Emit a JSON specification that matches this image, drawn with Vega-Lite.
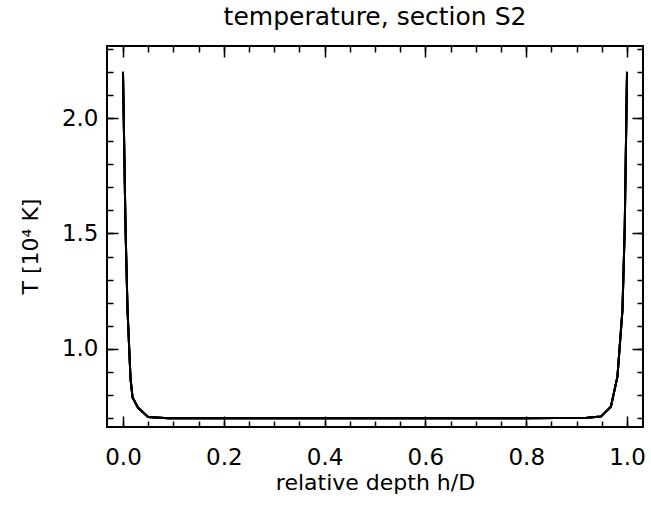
{
  "$schema": "https://vega.github.io/schema/vega-lite/v6.json",
  "width": 536,
  "height": 381,
  "autosize": {"type": "none"},
  "padding": {"left": 107, "top": 46, "right": 8, "bottom": 78},
  "background": "white",
  "config": {
    "view": {"stroke": "black", "strokeWidth": 2},
    "font": "DejaVu Sans",
    "axis": {"grid": false, "domain": false, "tickColor": "black", "tickWidth": 1.5, "labelColor": "black", "titleColor": "black", "labelFont": "DejaVu Sans", "titleFont": "DejaVu Sans", "titleFontWeight": "normal", "labelFontSize": 23, "titleFontSize": 22}
  },
  "title": {"text": "temperature, section S2", "fontSize": 25, "font": "DejaVu Sans", "fontWeight": "normal", "color": "black", "anchor": "middle", "offset": 15},
  "data": {"values": [
    {"h": 0.000, "T": 2.20},
    {"h": 0.005, "T": 1.53},
    {"h": 0.009, "T": 1.17},
    {"h": 0.015, "T": 0.87},
    {"h": 0.019, "T": 0.79},
    {"h": 0.030, "T": 0.745},
    {"h": 0.050, "T": 0.705},
    {"h": 0.090, "T": 0.700},
    {"h": 0.200, "T": 0.700},
    {"h": 0.400, "T": 0.700},
    {"h": 0.600, "T": 0.700},
    {"h": 0.800, "T": 0.700},
    {"h": 0.920, "T": 0.702},
    {"h": 0.948, "T": 0.707},
    {"h": 0.968, "T": 0.750},
    {"h": 0.981, "T": 0.880},
    {"h": 0.991, "T": 1.17},
    {"h": 0.9955, "T": 1.53},
    {"h": 1.000, "T": 2.20}
  ]},
  "resolve": {"axis": {"x": "independent", "y": "independent"}},
  "layer": [
    {
      "mark": {"type": "line", "color": "black", "strokeWidth": 2},
      "encoding": {
        "x": {"field": "h", "type": "quantitative", "scale": {"domain": [-0.0317, 1.0317], "nice": false, "zero": false},
          "axis": {"orient": "bottom", "values": [0, 0.2, 0.4, 0.6, 0.8, 1.0], "format": ".1f", "tickSize": -11, "labelPadding": 30, "labelBaseline": "top", "title": "relative depth h/D", "titleY": 62, "titleBaseline": "alphabetic"}},
        "y": {"field": "T", "type": "quantitative", "scale": {"domain": [0.662, 2.312], "nice": false, "zero": false},
          "axis": {"orient": "left", "values": [1.0, 1.5, 2.0], "format": ".1f", "tickSize": -11, "labelPadding": 20, "title": "T [10⁴ K]", "titleAngle": 270, "titleX": -77, "titleY": 200, "titleAlign": "center", "titleBaseline": "middle"}}
      }
    },
    {
      "mark": {"type": "line", "color": "black", "strokeWidth": 2},
      "encoding": {
        "x": {"field": "h", "type": "quantitative", "scale": {"domain": [-0.0317, 1.0317], "nice": false, "zero": false},
          "axis": {"orient": "bottom", "values": [0, 0.05, 0.1, 0.15, 0.2, 0.25, 0.3, 0.35, 0.4, 0.45, 0.5, 0.55, 0.6, 0.65, 0.7, 0.75, 0.8, 0.85, 0.9, 0.95, 1.0], "tickSize": -6, "labels": false, "title": null}},
        "y": {"field": "T", "type": "quantitative", "scale": {"domain": [0.662, 2.312], "nice": false, "zero": false},
          "axis": {"orient": "left", "values": [0.7, 0.8, 0.9, 1.0, 1.1, 1.2, 1.3, 1.4, 1.5, 1.6, 1.7, 1.8, 1.9, 2.0, 2.1, 2.2, 2.3], "tickSize": -6, "labels": false, "title": null}}
      }
    },
    {
      "mark": {"type": "line", "color": "black", "strokeWidth": 2},
      "encoding": {
        "x": {"field": "h", "type": "quantitative", "scale": {"domain": [-0.0317, 1.0317], "nice": false, "zero": false},
          "axis": {"orient": "top", "values": [0, 0.2, 0.4, 0.6, 0.8, 1.0], "tickSize": -11, "labels": false, "title": null}},
        "y": {"field": "T", "type": "quantitative", "scale": {"domain": [0.662, 2.312], "nice": false, "zero": false},
          "axis": {"orient": "right", "values": [1.0, 1.5, 2.0], "tickSize": -11, "labels": false, "title": null}}
      }
    },
    {
      "mark": {"type": "line", "color": "black", "strokeWidth": 2},
      "encoding": {
        "x": {"field": "h", "type": "quantitative", "scale": {"domain": [-0.0317, 1.0317], "nice": false, "zero": false},
          "axis": {"orient": "top", "values": [0, 0.05, 0.1, 0.15, 0.2, 0.25, 0.3, 0.35, 0.4, 0.45, 0.5, 0.55, 0.6, 0.65, 0.7, 0.75, 0.8, 0.85, 0.9, 0.95, 1.0], "tickSize": -6, "labels": false, "title": null}},
        "y": {"field": "T", "type": "quantitative", "scale": {"domain": [0.662, 2.312], "nice": false, "zero": false},
          "axis": {"orient": "right", "values": [0.7, 0.8, 0.9, 1.0, 1.1, 1.2, 1.3, 1.4, 1.5, 1.6, 1.7, 1.8, 1.9, 2.0, 2.1, 2.2, 2.3], "tickSize": -6, "labels": false, "title": null}}
      }
    }
  ]
}
